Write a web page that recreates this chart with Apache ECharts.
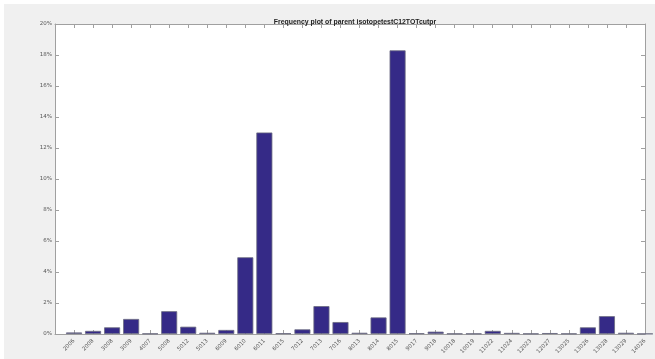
<!DOCTYPE html>
<html>
<head>
<meta charset="utf-8">
<script src="https://cdn.jsdelivr.net/npm/echarts@6/dist/echarts.min.js"></script>
<style>
  html, body { margin: 0; padding: 0; background: #ffffff; }
  #frame { position: absolute; left: 4px; top: 4px; width: 651px; height: 355px; background: #f0f0f0; }
  #chart { position: absolute; left: 0; top: 0; width: 655px; height: 359px; }
</style>
</head>
<body>
<div id="frame"></div>
<div id="chart"></div>
<script>
// Parent isotope categories along the x axis
const categories = ['2006', '2008', '3008', '3009', '4007', '5008', '5012', '5013', '6009', '6010',
  '6011', '6015', '7012', '7013', '7016', '8013', '8014', '8015', '9017', '9018',
  '10018', '10019', '11022', '11024', '12023', '12027', '13025', '13026', '13028', '13029', '14026'];

// Frequency of each parent, in percent
const frequency = [0.10, 0.20, 0.43, 0.97, 0.03, 1.47, 0.47, 0.08, 0.26, 4.95,
  13.0, 0.05, 0.30, 1.80, 0.77, 0.08, 1.07, 18.3, 0.05, 0.15,
  0.03, 0.03, 0.20, 0.07, 0.03, 0.06, 0.03, 0.43, 1.15, 0.08, 0.02];

// Y tick range in percent
const yTicks = { min: 0, max: 20, step: 2 };

const chart = echarts.init(document.getElementById('chart'), null, { renderer: 'canvas' });

const boxColor = '#a0a0a0';
const labelColor = '#555555';

function tickStyle() {
  return { show: true, inside: true, length: 4, lineStyle: { color: boxColor, width: 1 } };
}
function lineStyle() {
  return { show: true, onZero: false, lineStyle: { color: boxColor, width: 1 } };
}

chart.setOption({
  backgroundColor: 'transparent',
  animation: false,
  title: {
    text: 'Frequency plot of parent isotopetestC12TOTcutpr',
    left: 350,
    top: 14,
    textAlign: 'center',
    textStyle: { fontFamily: 'Liberation Sans', fontWeight: 'bold', fontSize: 6.9, color: '#222222' }
  },
  grid: { left: 55, right: 10, top: 24, bottom: 25, backgroundColor: '#ffffff', show: true, borderWidth: 0 },
  xAxis: [
    {
      type: 'value', position: 'bottom',
      min: 0, max: categories.length, interval: 1,
      splitLine: { show: false },
      axisLine: lineStyle(),
      axisTick: tickStyle(),
      axisLabel: {
        show: true,
        rotate: 45,
        fontSize: 5.5,
        fontFamily: 'DejaVu Sans',
        color: labelColor,
        margin: 6,
        formatter: function (v) { return categories[v - 1] || ''; }
      }
    },
    {
      type: 'value', position: 'top',
      min: 0, max: categories.length, interval: 1,
      splitLine: { show: false },
      axisLine: lineStyle(),
      axisTick: tickStyle(),
      axisLabel: { show: false }
    }
  ],
  yAxis: [
    {
      type: 'value', position: 'left',
      min: yTicks.min, max: yTicks.max, interval: yTicks.step,
      splitLine: { show: false },
      axisLine: lineStyle(),
      axisTick: tickStyle(),
      axisLabel: {
        show: true,
        fontSize: 5.5,
        fontFamily: 'DejaVu Sans',
        color: labelColor,
        margin: 3,
        formatter: '{value}%'
      }
    },
    {
      type: 'value', position: 'right',
      min: yTicks.min, max: yTicks.max, interval: yTicks.step,
      splitLine: { show: false },
      axisLine: lineStyle(),
      axisTick: tickStyle(),
      axisLabel: { show: false }
    }
  ],
  series: [{
    type: 'bar',
    xAxisIndex: 0,
    yAxisIndex: 0,
    barWidth: 16,
    data: frequency.map(function (v, i) { return [i + 1, v]; }),
    itemStyle: { color: '#352a87', borderColor: '#6b6b80', borderWidth: 0.8 },
    clip: true
  }]
});
</script>
</body>
</html>
